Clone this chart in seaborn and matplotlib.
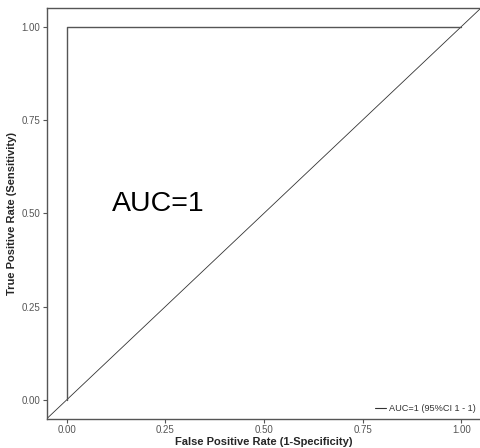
import matplotlib
matplotlib.use("Agg")
import matplotlib.pyplot as plt
import seaborn as sns
import pandas as pd

fpr = [0.0, 0.0, 1.0]
tpr = [0.0, 1.0, 1.0]
diag = [-0.05, 1.05]
ticks = [0.0, 0.25, 0.5, 0.75, 1.0]
tick_labels = ["0.00", "0.25", "0.50", "0.75", "1.00"]
legend_label = "AUC=1 (95%CI 1 - 1)"
annot = "AUC=1"

sns.set_theme(style="white")
plt.rcParams['font.family'] = ['Liberation Sans', 'DejaVu Sans']

fig = plt.figure(figsize=(4.81, 4.48), dpi=100)
ax = fig.add_axes([47/481, 29.5/448, 1 - 47/481, (418.5 - 8) / 448])

df = pd.DataFrame({"fpr": fpr, "tpr": tpr})
ax.plot(diag, diag, color="#333333", lw=0.6)
sns.lineplot(data=df, x="fpr", y="tpr", sort=False, estimator=None, ax=ax,
             color="#555555", lw=1.0, label=legend_label)

ax.set_xlim(-0.05, 1.05)
ax.set_ylim(-0.05, 1.05)
ax.set_xticks(ticks)
ax.set_xticklabels(tick_labels)
ax.set_yticks(ticks)
ax.set_yticklabels(tick_labels)
ax.tick_params(axis="both", length=3, width=0.8, color="#555555", labelsize=7,
               labelcolor="#555555", pad=2, bottom=True, left=True)
for s in ["left", "bottom", "top"]:
    ax.spines[s].set_color("#555555")
    ax.spines[s].set_linewidth(1.0)
ax.spines["right"].set_visible(False)

ax.set_xlabel("False Positive Rate (1-Specificity)", fontsize=8, fontweight="bold", labelpad=1)
ax.set_ylabel("True Positive Rate (Sensitivity)", fontsize=8, fontweight="bold", labelpad=3)

ax.text(0.115, 0.525, annot, fontsize=20.5, va="center", ha="left", color="black")

leg = ax.legend(loc="lower right", frameon=False, fontsize=6.6, handlelength=1.2,
                handletextpad=0.4, borderaxespad=0.15)
for line in leg.get_lines():
    line.set_color("#333333")
    line.set_linewidth(0.8)
for t in leg.get_texts():
    t.set_color("#333333")

fig.savefig("out.png", dpi=100)
